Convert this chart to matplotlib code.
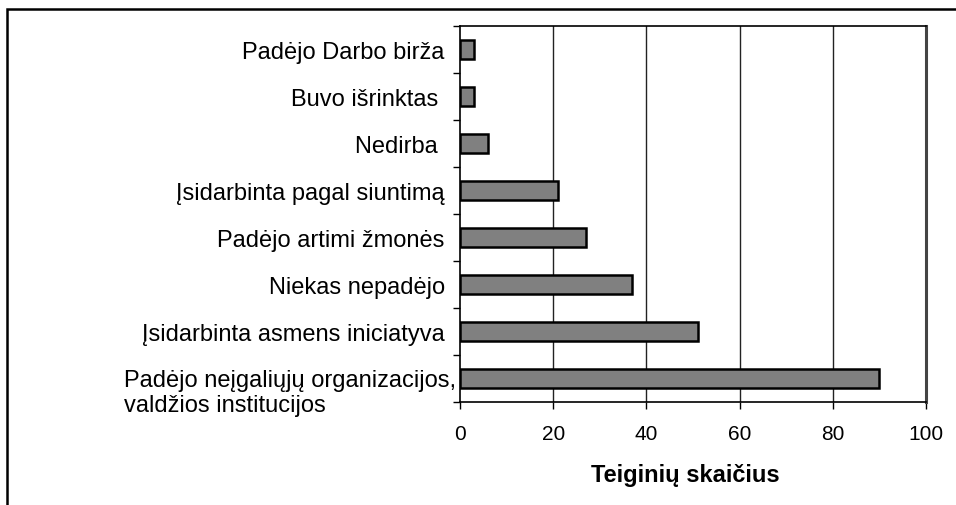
import matplotlib
matplotlib.use("Agg")
import matplotlib.pyplot as plt
from matplotlib.transforms import ScaledTranslation
from matplotlib.patches import Rectangle
import numpy as np

categories = [
    "Padėjo Darbo birža",
    "Buvo išrinktas ",
    "Nedirba ",
    "Įsidarbinta pagal siuntimą",
    "Padėjo artimi žmonės",
    "Niekas nepadėjo",
    "Įsidarbinta asmens iniciatyva",
    "Padėjo neįgaliųjų organizacijos,\nvaldžios institucijos",
]
values = [3, 3, 6, 21, 27, 37, 51, 90]
xticks = [0, 20, 40, 60, 80, 100]
xlabel = "Teiginių skaičius"

plt.rcParams['font.family'] = ['Liberation Sans', 'DejaVu Sans']

W, H = 956, 506
fig = plt.figure(figsize=(W / 100, H / 100), dpi=100)

# outer frame (cropped on right and bottom)
fig.patches.append(Rectangle((7 / W, -0.1), 1.2, (H - 10) / H + 0.1,
                             transform=fig.transFigure, fill=False,
                             edgecolor='black', linewidth=1.8, zorder=0))

ax = fig.add_axes([460 / W, (H - 403) / H, (926 - 460) / W, (403 - 27) / H])
pos = np.arange(len(categories))
ax.barh(pos, values, height=0.4, color='#808080', edgecolor='black',
        linewidth=1.8, zorder=3)

ax.set_xlim(0, 100)
ax.set_ylim(len(categories) - 0.5, -0.5)
ax.set_xticks(xticks)
ax.set_xticklabels([str(v) for v in xticks], fontsize=15)
ax.tick_params(axis='x', direction='out', length=5, width=1, pad=11)

ax.set_yticks(pos)
ax.set_yticklabels(categories, fontsize=17)
ax.tick_params(axis='y', which='major', length=0, pad=11)
ax.set_yticks(np.arange(len(categories) + 1) - 0.5, minor=True)
ax.tick_params(axis='y', which='minor', direction='out', length=5, width=1)

for x in xticks[1:-1]:
    ax.axvline(x, color='#222222', linewidth=1.0, zorder=1)

for s in ['left', 'bottom', 'top']:
    ax.spines[s].set_linewidth(1.2)
    ax.spines[s].set_color('black')
ax.spines['right'].set_linewidth(2.2)
ax.spines['right'].set_color('#444444')

lab = ax.get_yticklabels()[-1]
lab.set_verticalalignment('top')
lab.set_multialignment('left')
lab.set_transform(lab.get_transform() + ScaledTranslation(11 / 100, 9.5 / 100, fig.dpi_scale_trans))

ax.set_xlabel(xlabel, fontsize=17, fontweight='bold', labelpad=10)
ax.xaxis.set_label_coords(0.483, -0.163)

fig.savefig("out.png", dpi=100)
